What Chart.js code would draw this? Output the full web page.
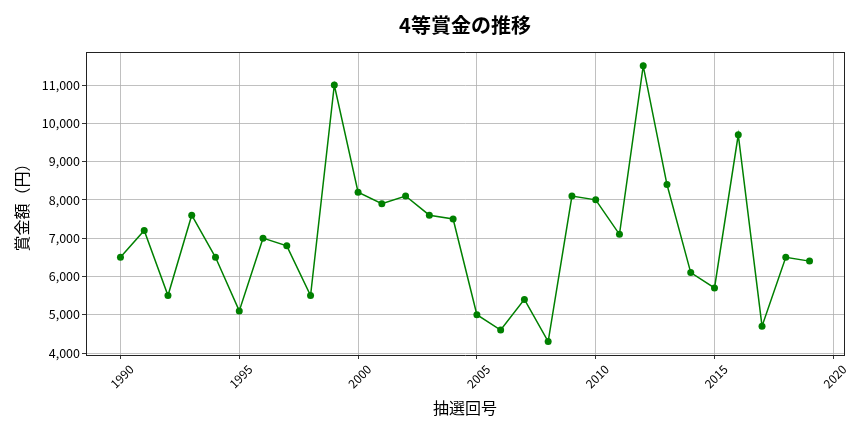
<!DOCTYPE html>
<html>
<head>
<meta charset="utf-8">
<script src="https://cdn.jsdelivr.net/npm/chart.js@4"></script>
<style>
  html, body { margin: 0; padding: 0; background: #fff; }
  #wrap { width: 864px; height: 432px; }
</style>
</head>
<body>
<div id="wrap"><canvas id="prize-chart"></canvas></div>
<script>
const years = [1990, 1991, 1992, 1993, 1994, 1995, 1996, 1997, 1998, 1999,
    2000, 2001, 2002, 2003, 2004, 2005, 2006, 2007, 2008, 2009,
    2010, 2011, 2012, 2013, 2014, 2015, 2016, 2017, 2018, 2019];
const prizes = [6500, 7200, 5500, 7600, 6500, 5100, 7000, 6800, 5500, 11000,
    8200, 7900, 8100, 7600, 7500, 5000, 4600, 5400, 4300, 8100,
    8000, 7100, 11500, 8400, 6100, 5700, 9700, 4700, 6500, 6400];
const xTicks = [1990, 1995, 2000, 2005, 2010, 2015, 2020];
const yTicks = [4000, 5000, 6000, 7000, 8000, 9000, 10000, 11000];

const FONT = "'Noto Sans CJK JP', 'Noto Sans', sans-serif";
const gridColor = '#b0b0b0';

const chartElement = document.getElementById('prize-chart');
new Chart(chartElement, {
    type: 'line',
    data: {
        datasets: [{
            data: years.map((year, i) => ({ x: year, y: prizes[i] })),
            borderColor: '#008000',
            backgroundColor: '#008000',
            borderWidth: 1.5,
            pointRadius: 3.5,
            pointHoverRadius: 3.5,
            pointBorderWidth: 0,
            tension: 0
        }]
    },
    options: {
        animation: false,
        responsive: true,
        maintainAspectRatio: false,
        layout: { padding: { left: 0, right: 20, top: 0, bottom: 0 } },
        plugins: {
            legend: { display: false },
            tooltip: { enabled: false },
            title: {
                display: true,
                fullSize: false,
                text: '4等賞金の推移',
                color: '#000',
                font: { family: FONT, size: 20, weight: 'bold' },
                padding: { top: 13, bottom: 15 }
            }
        },
        scales: {
            x: {
                type: 'linear',
                min: 1988.55,
                max: 2020.45,
                afterBuildTicks: scale => { scale.ticks = xTicks.map(v => ({ value: v })); },
                afterFit: scale => { scale.height = 77; },
                ticks: {
                    color: '#000',
                    font: { family: FONT, size: 12 },
                    minRotation: 45,
                    maxRotation: 45,
                    padding: 3,
                    labelOffset: 11,
                    callback: v => String(v)
                },
                grid: { color: gridColor, lineWidth: 0.8, tickLength: 4, tickColor: '#000' },
                border: { color: '#222', width: 1 },
                title: {
                    display: true,
                    text: '抽選回号',
                    color: '#000',
                    font: { family: FONT, size: 16 },
                    padding: { top: 0, bottom: 14 }
                }
            },
            x2: {
                type: 'linear',
                position: 'top',
                min: 1988.55,
                max: 2020.45,
                ticks: { display: false },
                grid: { display: false, drawTicks: false },
                border: { color: '#222', width: 1 },
                afterFit: scale => { scale.height = 0; }
            },
            y: {
                type: 'linear',
                min: 3948,
                max: 11862,
                afterBuildTicks: scale => { scale.ticks = yTicks.map(v => ({ value: v })); },
                afterFit: scale => { scale.width = 86; },
                ticks: {
                    color: '#000',
                    font: { family: FONT, size: 12.5 },
                    padding: 2,
                    callback: v => v.toLocaleString('en-US')
                },
                grid: { color: gridColor, lineWidth: 0.8, tickLength: 4, tickColor: '#000' },
                border: { color: '#222', width: 1 },
                title: {
                    display: true,
                    text: '賞金額（円）',
                    color: '#000',
                    font: { family: FONT, size: 16 },
                    padding: { top: 12, bottom: 0 }
                }
            },
            y2: {
                type: 'linear',
                position: 'right',
                min: 3948,
                max: 11862,
                ticks: { display: false },
                grid: { display: false, drawTicks: false },
                border: { color: '#222', width: 1 },
                afterFit: scale => { scale.width = 0; }
            }
        }
    }
});
</script>
</body>
</html>
